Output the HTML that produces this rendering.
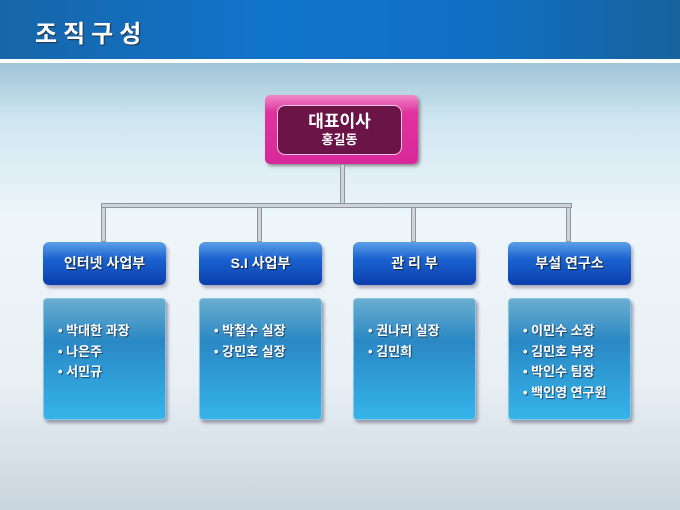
<!DOCTYPE html>
<html><head><meta charset="utf-8"><style>
*{margin:0;padding:0;box-sizing:border-box}
body{width:680px;height:510px;overflow:hidden;position:relative;font-family:"Liberation Sans","Noto Sans CJK KR",sans-serif;background:linear-gradient(#9fc4d8 62px,#cfe6f0 120px,#eef6fa 220px,#e8f0f5 380px,#c9d5de 510px)}
.hdr{position:absolute;left:0;top:0;width:680px;height:59px;background:linear-gradient(90deg,#1766a8,#1174cc 40%,#1070c4 70%,#17629c)}
.hl{position:absolute;left:0;top:59px;width:680px;height:4px;background:#fff}
.title{position:absolute;left:35px;top:14px;color:#fff;font-size:24px;font-weight:bold;letter-spacing:6px;text-shadow:1px 1px 1px #234}
.ceo{position:absolute;left:265px;top:95px;width:153px;height:69px;border-radius:5px;background:linear-gradient(#f08ac8,#e0339f 25%,#d8289a);box-shadow:2px 2px 3px #888}
.ceo .in{position:absolute;left:12px;top:10px;width:125px;height:50px;border-radius:8px;background:#6a1448;border:1.5px solid #f4c6df;color:#fff;text-align:center;font-weight:bold}
.ln{position:absolute;background:#d0d4d8;border:1px solid #8d969e}
.dep{position:absolute;top:242px;width:123px;height:43px;border-radius:6px;background:linear-gradient(#5c9fe8,#1a62d0 40%,#0b3fae);box-shadow:2px 3px 3px #aab;color:#fff;font-weight:bold;font-size:14px;text-align:center;line-height:43px;text-shadow:1px 1px 1px #123}
.mem{position:absolute;top:298px;width:123px;height:122px;border-radius:4px;background:linear-gradient(#6aaed0,#2a88c4 35%,#35b4ea);border:1px solid #8ac6e0;box-shadow:2px 3px 3px #99a;color:#fff;font-weight:bold;font-size:13px;padding:22px 0 0 14px;line-height:20.5px;text-shadow:1px 1px 1px #246}
</style></head><body>
<div class="hdr"></div><div class="hl"></div>
<div class="title">조직구성</div>
<div class="ceo"><div class="in"><div style="font-size:17px;margin-top:6px;line-height:20px">대표이사</div><div style="font-size:13px;line-height:16px">홍길동</div></div></div>
<div class="ln" style="left:340px;top:164px;width:5px;height:43px"></div>
<div class="ln" style="left:101px;top:203px;width:471px;height:5px"></div>
<div class="ln" style="left:101px;top:207px;width:5px;height:35px"></div>
<div class="ln" style="left:257px;top:207px;width:5px;height:35px"></div>
<div class="ln" style="left:411px;top:207px;width:5px;height:35px"></div>
<div class="ln" style="left:566px;top:207px;width:5px;height:35px"></div>
<div class="dep" style="left:43px">인터넷 사업부</div>
<div class="dep" style="left:199px">S.I 사업부</div>
<div class="dep" style="left:353px">관 리 부</div>
<div class="dep" style="left:508px">부설 연구소</div>
<div class="mem" style="left:43px">• 박대한 과장<br>• 나은주<br>• 서민규</div>
<div class="mem" style="left:199px">• 박철수 실장<br>• 강민호 실장</div>
<div class="mem" style="left:353px">• 권나리 실장<br>• 김민희</div>
<div class="mem" style="left:508px">• 이민수 소장<br>• 김민호 부장<br>• 박인수 팀장<br>• 백인영 연구원</div>
</body></html>
